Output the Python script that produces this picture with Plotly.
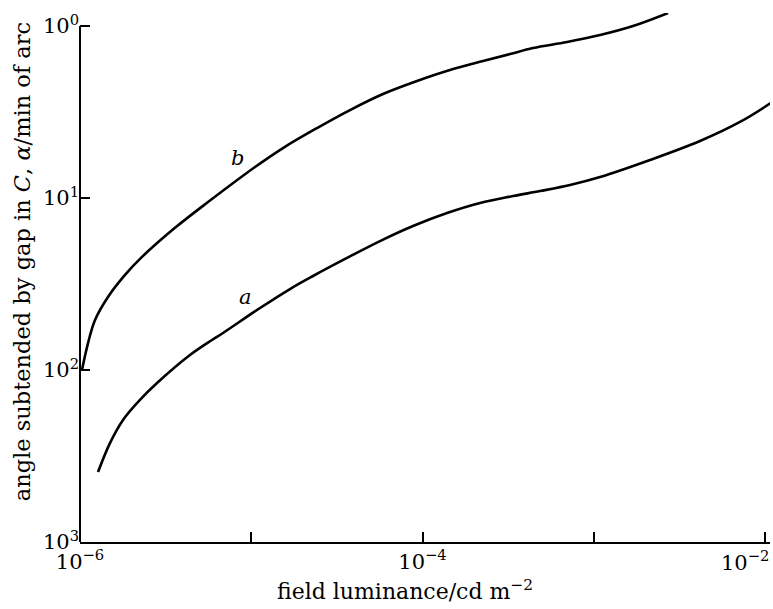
import math
import plotly.graph_objects as go

# Curve a: field luminance (cd m^-2) and angle subtended by gap (min of arc)
lum_a = [1.274e-6, 1.496e-6, 1.783e-6, 2.240e-6, 2.817e-6, 4.387e-6, 5.90e-6, 6.84e-6,
         1.125e-5, 1.683e-5, 2.295e-5, 3.623e-5, 5.646e-5, 8.80e-5, 1.390e-4, 2.167e-4,
         3.377e-4, 4.855e-4, 7.265e-4, 1.088e-3, 2.13e-3, 4.17e-3, 7.14e-3, 1.10e-2]
alpha_a = [392, 266, 195, 149, 119, 81.8, 66.9, 60.9,
           43.6, 33.8, 28.4, 22.3, 17.8, 14.55, 12.23, 10.69,
           9.74, 9.11, 8.40, 7.55, 6.01, 4.66, 3.61, 2.77]

# Curve b
lum_b = [1.027e-6, 1.114e-6, 1.224e-6, 1.457e-6, 1.832e-6, 2.301e-6, 3.587e-6, 5.59e-6,
         1.052e-5, 1.532e-5, 2.421e-5, 3.772e-5, 5.88e-5, 9.29e-5, 1.447e-4, 2.256e-4,
         3.243e-4, 4.418e-4, 6.98e-4, 1.088e-3, 1.695e-3, 2.714e-3]
alpha_b = [100, 69.7, 51.2, 37.6, 28.0, 22.0, 14.9, 10.55,
           6.60, 5.12, 3.92, 3.08, 2.485, 2.088, 1.803, 1.598,
           1.455, 1.342, 1.239, 1.128, 1.0, 0.840]

# Curve labels (luminance, alpha)
label_a = (9.2e-6, 37.6)
label_b = (8.26e-6, 5.85)

x_tickvals = [1e-6, 1e-5, 1e-4, 1e-3, 1e-2]
x_ticktext = ["10<sup>\u22126</sup>", "", "10<sup>\u22124</sup>", "", ""]
# the label of the last x tick is right-aligned to stay inside the page
x_last_label = "10<sup>\u22122</sup>"
y_tickvals = [1, 10, 100, 1000]
y_ticktext = ["10<sup>0</sup>", "10<sup>1</sup>", "10<sup>2</sup>", "10<sup>3</sup>"]

x_title = "field luminance/cd m<sup>\u22122</sup>"
y_title = "angle subtended by gap in <i>C</i>, <i>\u03b1</i>/min of arc"

SERIF = "DejaVu Serif, Liberation Serif, serif"

fig = go.Figure()
for lum, alpha in ((lum_a, alpha_a), (lum_b, alpha_b)):
    fig.add_trace(go.Scatter(
        x=lum, y=alpha, mode="lines",
        line=dict(color="black", width=2.6, shape="spline", smoothing=1.0),
        showlegend=False, hoverinfo="skip",
    ))

for (lx, ly), txt in ((label_a, "a"), (label_b, "b")):
    fig.add_annotation(
        x=math.log10(lx), y=math.log10(ly), xref="x", yref="y",
        text=f"<i>{txt}</i>", showarrow=False,
        font=dict(family=SERIF, size=21, color="black"),
    )

fig.add_annotation(
    x=math.log10(x_tickvals[-1]), y=0, xref="x", yref="paper",
    xanchor="right", yanchor="top", xshift=6, yshift=-3, showarrow=False,
    text=x_last_label, font=dict(family=SERIF, size=21, color="black"),
)

# Axis titles
fig.add_annotation(
    x=0.471, y=0, xref="paper", yref="paper", yshift=-48,
    xanchor="center", yanchor="middle", showarrow=False,
    text=x_title, font=dict(family=SERIF, size=22, color="black"),
)
fig.add_annotation(
    x=0, y=0.529, xref="paper", yref="paper", xshift=-58,
    xanchor="center", yanchor="middle", showarrow=False, textangle=-90,
    text=y_title, font=dict(family=SERIF, size=22.5, color="black"),
)

# Vertical axis line running from 10^3 up to 10^0
fig.add_shape(type="line", xref="paper", yref="y",
              x0=0, x1=0, y0=y_tickvals[-1], y1=y_tickvals[0],
              line=dict(color="black", width=2))

fig.update_layout(
    width=773, height=609,
    margin=dict(l=80, r=3, t=13, b=67),
    paper_bgcolor="white", plot_bgcolor="white",
    font=dict(family=SERIF, size=20, color="black"),
    xaxis=dict(
        type="log", range=[-6, -1.971], automargin=False,
        tickvals=x_tickvals, ticktext=x_ticktext,
        ticks="inside", ticklen=10, tickwidth=1.5, tickcolor="black",
        showline=True, linecolor="black", linewidth=2,
        showgrid=False, zeroline=False,
        tickfont=dict(family=SERIF, size=21),
    ),
    yaxis=dict(
        type="log", range=[3, -0.076], automargin=False,
        tickvals=y_tickvals, ticktext=y_ticktext,
        ticks="inside", ticklen=10, tickwidth=1.5, tickcolor="black",
        showline=False, showgrid=False, zeroline=False,
        tickfont=dict(family=SERIF, size=21),
    ),
)

fig.write_html("out.html")
